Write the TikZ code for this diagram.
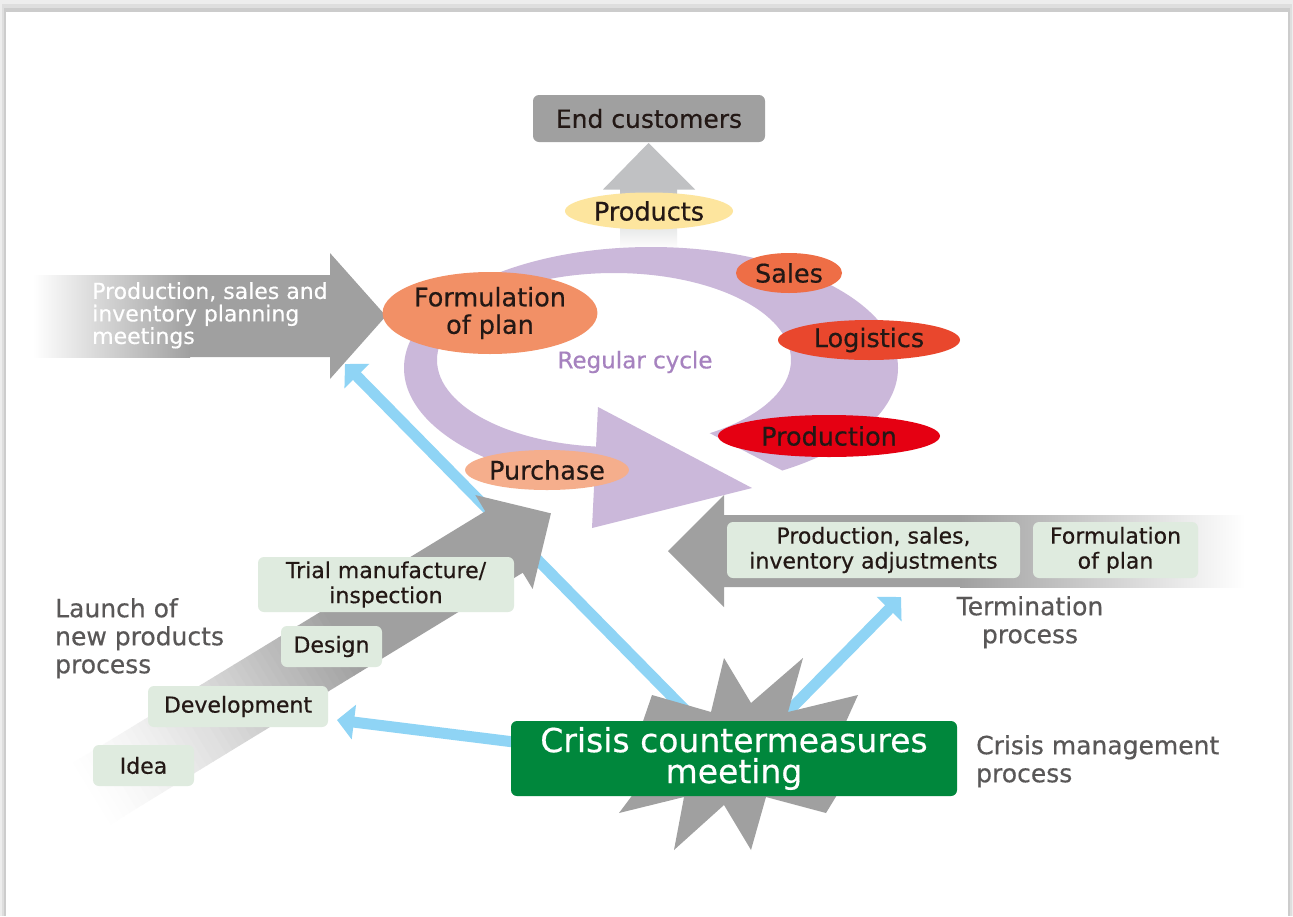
\documentclass[tikz,border=0pt]{standalone}
\usepackage{fontspec}
\setmainfont{DejaVu Sans}[FakeBold=0.5]
\usetikzlibrary{shapes.geometric,arrows.meta}

\definecolor{arrowgray}{HTML}{A0A0A0}
\definecolor{upgray}{HTML}{C0C1C3}
\definecolor{ringc}{HTML}{CBB8DA}
\definecolor{cycletxt}{HTML}{A682BF}
\definecolor{planc}{HTML}{F29066}
\definecolor{salesc}{HTML}{EE6E46}
\definecolor{logic}{HTML}{E9472D}
\definecolor{prodc}{HTML}{E50012}
\definecolor{purchc}{HTML}{F5AE8C}
\definecolor{goodsc}{HTML}{FDE59E}
\definecolor{greenc}{HTML}{00873C}
\definecolor{paleg}{HTML}{DFEBDF}
\definecolor{graytxt}{HTML}{595757}
\definecolor{darktxt}{HTML}{231815}
\definecolor{bluec}{HTML}{8FD4F5}

\tikzset{
  oval/.style={ellipse, inner sep=0pt, text=darktxt, align=center,
    font=\fontsize{25.5}{27.5}\selectfont},
  stepbox/.style={rounded corners=6pt, fill=paleg, text=darktxt, inner sep=0pt,
    align=center, font=\fontsize{22}{25}\selectfont},
  note/.style={text=graytxt, inner sep=0pt, font=\fontsize{25}{28}\selectfont},
  blueline/.style={draw=bluec, line width=11pt,
    -{Triangle[width=34pt,length=17pt]}},
}

\begin{document}
\begin{tikzpicture}[x=1pt,y=-1pt]
\useasboundingbox (0,0) rectangle (1293,916);

% page with its soft shadow
\fill[black!7] (0,0) rectangle (1293,916);
\fill[black!13] (2,4) rectangle (1292,916);
\fill[black!20] (4,8) rectangle (1290,916);
\fill[white] (6,12) rectangle (1288,916);

% blue crisis connectors (under everything else)
\coordinate (b1s) at (700,725);
\coordinate (b1e) at (345,364);
\coordinate (b2s) at (530,744);
\coordinate (b2e) at (337,720);
\coordinate (b3s) at (770,730);
\coordinate (b3e) at (901,597);
\draw[blueline] (b1s) -- (b1e);
\draw[blueline] (b2s) -- (b2e);
\draw[blueline] (b3s) -- (b3e);

% products go up to the end customers
\shade[top color=upgray, bottom color=white] (620,189) rectangle (677,250);
\fill[upgray] (603,189.5) -- (648.5,143) -- (695,189.5) -- cycle;
\node[rounded corners=6pt, fill=arrowgray, text=darktxt, inner sep=0pt,
      minimum width=232pt, minimum height=47pt,
      font=\fontsize{25}{27}\selectfont] (end) at (649,118.5) {End customers};

% planning meetings arrow
\shade[left color=white, right color=arrowgray] (33,275) rectangle (190,357);
\fill[arrowgray] (189,275) -- (330,275) -- (330,253) -- (386,316)
  -- (330,379) -- (330,357) -- (189,357) -- cycle;
\node[anchor=north west, inner sep=0pt, text=white, align=left,
      font=\fontsize{22}{22.5}\selectfont] (psimeet) at (92,282)
  {Production, sales and\\inventory planning\\meetings};

% regular cycle ring with its arrowhead
\begin{scope}
  \clip (380,200) -- (960,200) -- (960,562) -- (620,387) -- (620,650)
    -- (380,650) -- cycle;
  \fill[ringc, even odd rule]
    (651,368) ellipse [x radius=247pt, y radius=121pt]
    (614,360) ellipse [x radius=177pt, y radius=87pt];
\end{scope}
\fill[ringc] (598,407) -- (752,488) -- (592,528) -- cycle;
\node[inner sep=0pt, text=cycletxt, font=\fontsize{23}{25}\selectfont]
  (cycle) at (635,362) {Regular cycle};

\node[oval, fill=goodsc, minimum width=168pt, minimum height=37pt]
  (goods) at (649,211) {Products};
\node[oval, fill=planc, minimum width=198pt, minimum height=82pt]
  (plan) at (490,313) {Formulation\\of plan};
\node[oval, fill=salesc, minimum width=106pt, minimum height=40pt]
  (sales) at (789,273) {Sales};
\node[oval, fill=logic, minimum width=182pt, minimum height=40pt]
  (logi) at (869,340) {Logistics};
\node[oval, fill=prodc, minimum width=222pt, minimum height=42pt]
  (prod) at (829,436) {Production};
\node[oval, fill=purchc, minimum width=150pt, minimum height=40pt]
  (purch) at (547,470) {Purchase};

% launch of new products arrow, fading in from the lower left
\begin{scope}[shift={(504,542)}, rotate=31.4]
  \foreach \i in {0,...,39} {
    \pgfmathsetmacro\u{-490+\i*7.5}
    \pgfmathtruncatemacro\p{100*((\i+0.5)/40)^1.4}
    \fill[arrowgray!\p!white] (\u,-36) -- (\u+8,-36) -- (\u+8,36)
      -- (\u,36) -- cycle;
  }
  \fill[arrowgray] (-190.5,-36) -- (0,-36) -- (0,-55) -- (55,0) -- (0,55)
    -- (0,36) -- (-190.5,36) -- cycle;
\end{scope}

\node[stepbox, minimum width=256pt, minimum height=55pt] (trial)
  at (386,584.5) {Trial manufacture/\\inspection};
\node[stepbox, minimum width=101pt, minimum height=41pt] (design)
  at (331.5,646.5) {Design};
\node[stepbox, minimum width=180pt, minimum height=41pt] (devel)
  at (238,706.5) {Development};
\node[stepbox, minimum width=101pt, minimum height=41pt] (idea)
  at (143.5,765.5) {Idea};
\node[note, anchor=north west, align=left] (launch) at (55,598)
  {Launch of\\new products\\process};

% termination arrow, fading out to the right
\fill[arrowgray] (668,551) -- (724,495) -- (724,515) -- (960.5,515)
  -- (960.5,587) -- (724,587) -- (724,607) -- cycle;
\shade[left color=arrowgray, right color=white] (960,515) rectangle (1245,587);
\node[stepbox, minimum width=293pt, minimum height=56pt] (adjust)
  at (873.5,550) {Production, sales,\\inventory adjustments};
\node[stepbox, minimum width=165pt, minimum height=56pt] (plan2)
  at (1115.5,550) {Formulation\\of plan};
\node[note, anchor=north, align=center] (term) at (1030,596)
  {Termination\\process};

% crisis burst and meeting
\fill[arrowgray] (724,658) -- (751,703) -- (803,658) -- (788,712)
  -- (858,695) -- (840,735) -- (905,760) -- (840,790) -- (826,813)
  -- (766,797) -- (751,850) -- (724,805) -- (674,850) -- (684,797)
  -- (619,813) -- (640,785) -- (575,758) -- (640,730) -- (652,695)
  -- (711,712) -- cycle;
\node[fill=greenc, rounded corners=6pt, text=white, inner sep=0pt,
      minimum width=446pt, minimum height=75pt, align=center,
      font=\fontsize{33}{31}\selectfont] (crisis) at (734,758.5)
  {Crisis countermeasures\\meeting};
\node[note, anchor=north west, align=left] (crisisproc) at (976,735)
  {Crisis management\\process};

\end{tikzpicture}
\end{document}
